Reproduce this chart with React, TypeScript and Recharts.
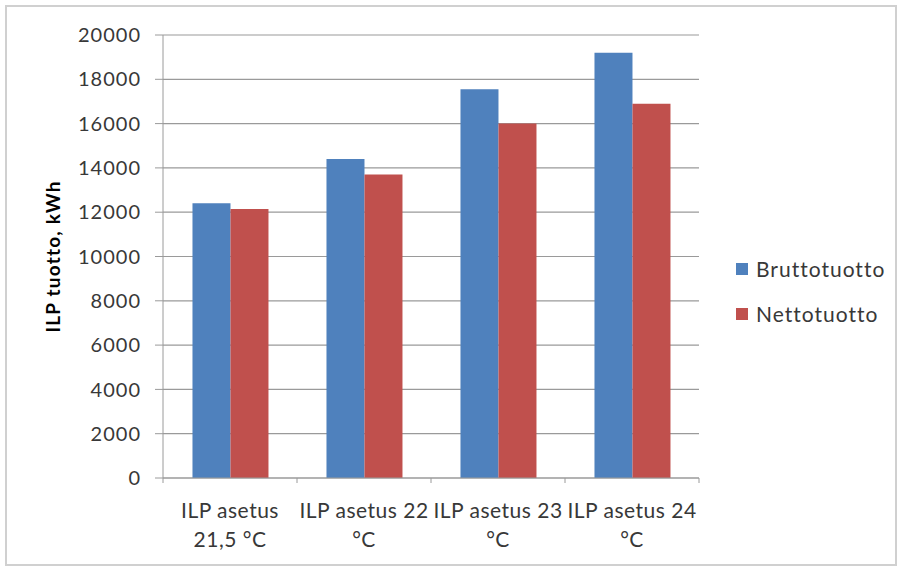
import React from "react";
import { BarChart, Bar, XAxis, YAxis, CartesianGrid, Legend, Label } from "recharts";

const categories = ["ILP asetus 21,5 °C", "ILP asetus 22 °C", "ILP asetus 23 °C", "ILP asetus 24 °C"];
const tickLines = [
  ["ILP asetus", "21,5 °C"],
  ["ILP asetus 22", "°C"],
  ["ILP asetus 23", "°C"],
  ["ILP asetus 24", "°C"],
];
const brutto = [12400, 14400, 17550, 19200];
const netto = [12150, 13700, 16000, 16900];
const yTicks = [0, 2000, 4000, 6000, 8000, 10000, 12000, 14000, 16000, 18000, 20000];

const data = categories.map((name, i) => ({
  name,
  Bruttotuotto: brutto[i],
  Nettotuotto: netto[i],
}));

const W = 902;
const H = 570;
const M = { top: 35, right: 203, bottom: 32, left: 83 };
const Y_WIDTH = 80;
const BAND = (W - M.left - Y_WIDTH - M.right) / categories.length;
const FONT = "Lato, 'Open Sans', sans-serif";
const TEXT = "#383838";
const AXIS = "#9a9a9a";

function CategoryTick(props: any) {
  const { x, y, index } = props;
  const lines = tickLines[index] || [];
  const isLast = index === categories.length - 1;
  return (
    <g>
      <line x1={x - BAND / 2} x2={x - BAND / 2} y1={y - 8} y2={y - 3} stroke={AXIS} />
      {isLast && <line x1={x + BAND / 2} x2={x + BAND / 2} y1={y - 8} y2={y - 3} stroke={AXIS} />}
      <text
        x={x}
        y={y + 32}
        textAnchor="middle"
        fontSize={21}
        letterSpacing={0.5}
        fill={TEXT}
        fontFamily={FONT}
      >
        {lines.map((l, i) => (
          <tspan key={i} x={x} dy={i === 0 ? 0 : 29}>{l}</tspan>
        ))}
      </text>
    </g>
  );
}

function LegendContent(props: any) {
  const { payload } = props;
  return (
    <div>
      {(payload || []).map((item: any) => (
        <div
          key={item.value}
          style={{
            display: "flex",
            alignItems: "center",
            height: 45,
            fontFamily: FONT,
            fontSize: 21,
            letterSpacing: 1,
            color: TEXT,
          }}
        >
          <span style={{ width: 12, height: 12, background: item.color, marginRight: 8, display: "inline-block" }} />
          {item.value}
        </div>
      ))}
    </div>
  );
}

export default function App() {
  return (
    <div style={{ position: "absolute", left: 0, top: 0, width: W, height: H, background: "#fff" }}>
      <BarChart width={W} height={H} data={data} margin={M} barCategoryGap="22%" barGap={0}>
        <CartesianGrid vertical={false} stroke={AXIS} strokeWidth={1.2} />
        <XAxis
          dataKey="name"
          height={60}
          stroke={AXIS}
          tickLine={false}
          tick={<CategoryTick />}
          interval={0}
        />
        <YAxis
          width={Y_WIDTH}
          domain={[0, 20000]}
          ticks={yTicks}
          interval={0}
          stroke={AXIS}
          tickSize={8}
          tickMargin={14}
          tick={{ fill: TEXT, fontSize: 20, fontFamily: FONT, letterSpacing: 1 }}
        >
          <Label
            content={(p: any) => {
              const vb = p.viewBox || {};
              const cx = vb.x - 31;
              const cy = vb.y + vb.height / 2;
              return (
                <text
                  x={cx}
                  y={cy}
                  transform={`rotate(-90, ${cx}, ${cy})`}
                  textAnchor="middle"
                  dominantBaseline="central"
                  fontSize={19}
                  letterSpacing={1.2}
                  fontWeight="bold"
                  fontFamily={FONT}
                  fill="#000"
                >
                  ILP tuotto, kWh
                </text>
              );
            }}
          />
        </YAxis>
        <Legend
          layout="vertical"
          align="center"
          verticalAlign="middle"
          wrapperStyle={{ left: 736, top: 246, width: 165 }}
          content={<LegendContent />}
        />
        <Bar dataKey="Bruttotuotto" fill="#4F81BD" isAnimationActive={false} />
        <Bar dataKey="Nettotuotto" fill="#C0504D" isAnimationActive={false} />
      </BarChart>
      <div
        style={{
          position: "absolute",
          left: 5,
          top: 5,
          width: 892,
          height: 561,
          border: "2px solid #d0d0d0",
          boxSizing: "border-box",
          pointerEvents: "none",
        }}
      />
    </div>
  );
}
